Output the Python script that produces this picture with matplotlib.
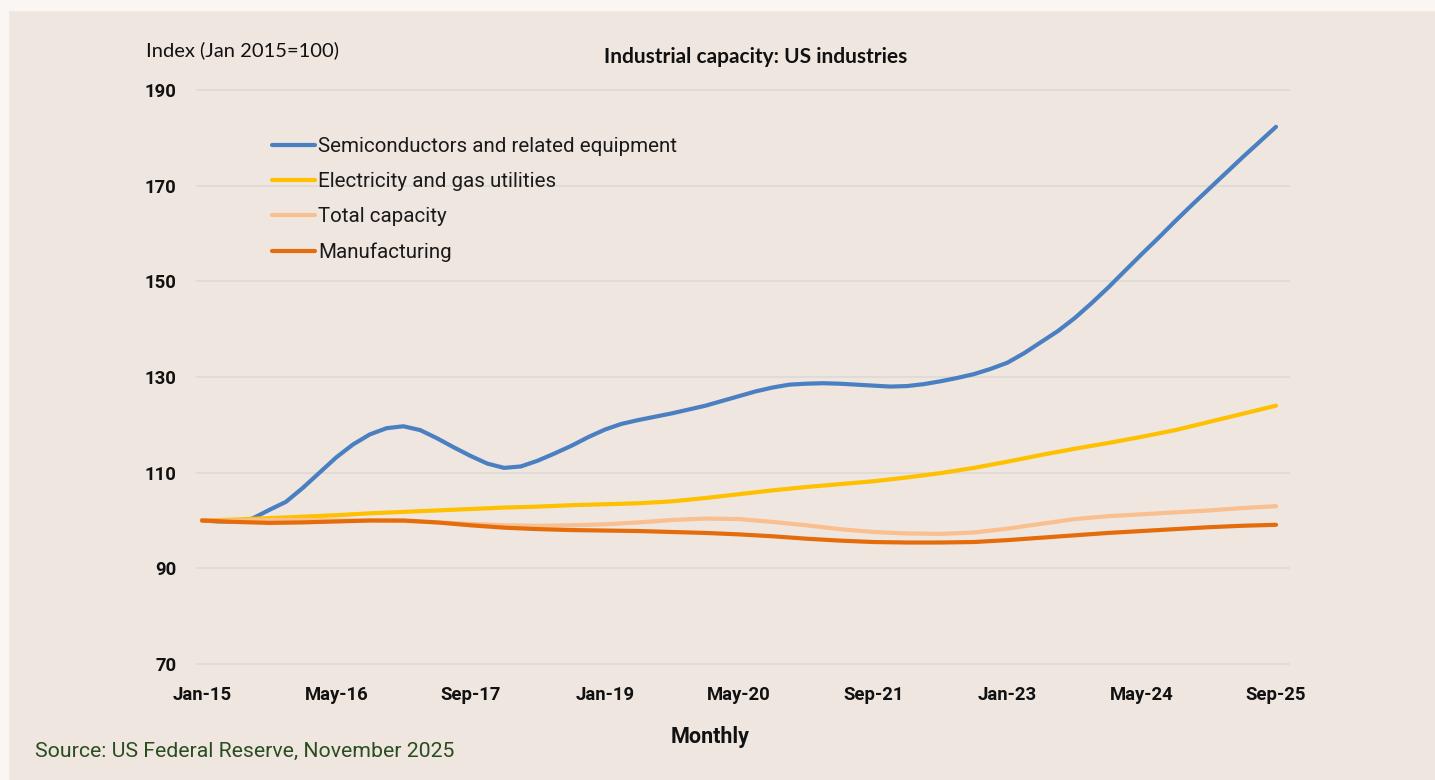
import matplotlib.pyplot as plt
from matplotlib.patches import Rectangle

# month index, 0 = Jan-15, 128 = Sep-25
semi_months = list(range(0, 129, 2))
semi = [100.0, 99.8, 99.8, 100.4, 102.2, 103.9, 106.8, 110.0, 113.2, 115.9,
        118.0, 119.3, 119.7, 118.9, 117.2, 115.3, 113.5, 111.9, 111.0, 111.3,
        112.5, 114.0, 115.6, 117.4, 119.0, 120.2, 121.0, 121.7, 122.4, 123.2,
        124.0, 125.0, 126.0, 127.0, 127.8, 128.4, 128.6, 128.7, 128.6, 128.4,
        128.2, 128.0, 128.1, 128.5, 129.1, 129.8, 130.6, 131.7, 133.0, 135.0,
        137.3, 139.6, 142.3, 145.4, 148.7, 152.2, 155.7, 159.1, 162.6, 166.0,
        169.3, 172.6, 175.9, 179.1, 182.3]

months = list(range(0, 129, 4))
utilities = [100.0, 100.2, 100.5, 100.8, 101.1, 101.5, 101.8, 102.1, 102.4, 102.7,
             102.9, 103.2, 103.4, 103.6, 104.0, 104.7, 105.5, 106.3, 107.0, 107.6,
             108.2, 109.0, 109.9, 111.0, 112.3, 113.7, 115.0, 116.2, 117.5, 118.9,
             120.6, 122.3, 124.0]
total = [100.0, 100.0, 100.1, 100.1, 100.0, 100.0, 99.9, 99.6, 99.3, 99.0,
         98.9, 99.0, 99.2, 99.6, 100.1, 100.4, 100.3, 99.7, 99.0, 98.2,
         97.6, 97.3, 97.2, 97.5, 98.3, 99.3, 100.3, 100.9, 101.3, 101.7,
         102.1, 102.6, 103.0]
manuf = [100.0, 99.7, 99.5, 99.6, 99.8, 100.0, 100.0, 99.6, 99.0, 98.5,
         98.2, 98.0, 97.9, 97.8, 97.6, 97.4, 97.1, 96.7, 96.2, 95.8,
         95.5, 95.4, 95.4, 95.5, 95.9, 96.4, 96.9, 97.4, 97.8, 98.2,
         98.6, 98.9, 99.1]

tick_pos = list(range(0, 129, 16))
tick_labels = ['Jan-15', 'May-16', 'Sep-17', 'Jan-19', 'May-20', 'Sep-21',
               'Jan-23', 'May-24', 'Sep-25']
y_ticks = [70, 90, 110, 130, 150, 170, 190]

bg = '#efe6e0'
fig = plt.figure(figsize=(14.35, 7.8), dpi=100, facecolor=bg)
# pale border strips at top and left
fig.patches.append(Rectangle((0, 1 - 10 / 780), 1, 10 / 780, transform=fig.transFigure,
                             color='#faf6f3', zorder=0))
fig.patches.append(Rectangle((0, 0), 8 / 1435, 1, transform=fig.transFigure,
                             color='#faf6f3', zorder=0))

ax = fig.add_axes([197 / 1435, 1 - 664 / 780, (1289 - 197) / 1435, (664 - 90) / 780])
ax.set_facecolor(bg)

ax.plot(semi_months, semi, color='#4a7fc1', lw=3, solid_capstyle='round',
        label='Semiconductors and related equipment')
ax.plot(months, utilities, color='#ffc000', lw=3, solid_capstyle='round',
        label='Electricity and gas utilities')
ax.plot(months, total, color='#f9bf8f', lw=3, solid_capstyle='round',
        label='Total capacity')
ax.plot(months, manuf, color='#e46c0a', lw=3, solid_capstyle='round',
        label='Manufacturing')

ax.set_xlim(-0.6, 129.55)
ax.set_ylim(70, 190)
ax.set_yticks(y_ticks)
ax.set_xticks(tick_pos)
ax.set_xticklabels(tick_labels)
ax.grid(axis='y', color='#dcd9d6', lw=1.2)
ax.set_axisbelow(True)
for s in ax.spines.values():
    s.set_visible(False)
ax.tick_params(length=0)
ax.tick_params(axis='y', pad=15)
ax.tick_params(axis='x', pad=16)
for lab in ax.get_xticklabels() + ax.get_yticklabels():
    lab.set_fontfamily('Roboto')
    lab.set_fontweight('bold')
    lab.set_fontsize(13.3)
    lab.set_color('#111111')
for gl in ax.get_ygridlines():
    gl.set_clip_on(False)

leg = ax.legend(loc='upper left', bbox_to_anchor=(262 / 1435, 1 - 127 / 780),
                bbox_transform=fig.transFigure, frameon=False,
                prop={'family': 'Roboto', 'size': 14.8}, handlelength=2.1,
                handletextpad=0.12, labelspacing=0.78, borderpad=0)
for t in leg.get_texts():
    t.set_color('#1a1a1a')

fig.text(146 / 1435, 1 - 50 / 780, 'Index (Jan 2015=100)', family='Lato',
         fontsize=14.5, va='center', ha='left', color='#111111')
fig.text(756 / 1435, 1 - 57 / 780, 'Industrial capacity: US industries', family='Lato',
         fontweight='bold', fontsize=15, va='center', ha='center', color='#111111')
fig.text(710 / 1435, 1 - 737 / 780, 'Monthly', family='Roboto', fontweight='bold',
         fontsize=15.5, va='center', ha='center', color='#111111')
fig.text(35 / 1435, 1 - 751 / 780, 'Source: US Federal Reserve, November 2025',
         family='Roboto', fontsize=15.3, va='center', ha='left', color='#2a4d1f')

fig.savefig('out.png', dpi=100, facecolor=bg)
